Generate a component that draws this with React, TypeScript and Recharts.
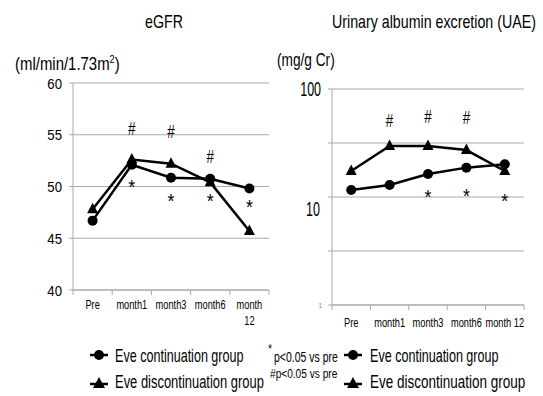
import React from 'react';
import { ComposedChart, Line, Scatter, XAxis, YAxis, CartesianGrid } from 'recharts';

const FONT = "'Liberation Sans',Arial,sans-serif";
const GRAY = '#a9a9a9';

// ---- data ----
const categories = ['Pre', 'month1', 'month3', 'month6', 'month 12'];
const leftCatLabels = [['Pre'], ['month1'], ['month3'], ['month6'], ['month', '12']];
const egfrContinuation = [46.7, 52.1, 50.85, 50.75, 49.8];
const egfrDiscontinuation = [47.8, 52.6, 52.2, 50.4, 45.7];
const uaeContinuation = [11.6, 12.9, 16.3, 18.7, 20.1];
const uaeDiscontinuation = [17.4, 29.7, 29.7, 27.2, 17.4];
const egfrTicks = [40, 45, 50, 55, 60];
const uaeGridTicks = [1, 3.162, 10, 31.62, 100];
const egfrHashIdx = [1, 2, 3];
const egfrHashY = [55.6, 55.3, 52.9];
const egfrStarIdx = [1, 2, 3, 4];
const egfrStarY = [50.3, 49.0, 49.0, 48.4];
const uaeHashIdx = [1, 2, 3];
const uaeHashY = [51.6, 56.2, 54.2];
const uaeStarIdx = [2, 3, 4];
const uaeStarY = [10.8, 11.2, 10.1];

const xTicks = [0, 0.5, 1, 1.5, 2, 2.5, 3, 3.5, 4, 4.5, 5];

const egfrData = categories.map((c, i) => ({ x: i + 0.5, cat: c, cont: egfrContinuation[i], disc: egfrDiscontinuation[i] }));
const uaeData = categories.map((c, i) => ({ x: i + 0.5, cat: c, cont: uaeContinuation[i], disc: uaeDiscontinuation[i] }));
const mkAnn = (idx: number[], ys: number[], t: string) => idx.map((i, k) => ({ x: i + 0.5, y: ys[k], t }));
const egfrAnn = [...mkAnn(egfrHashIdx, egfrHashY, '#'), ...mkAnn(egfrStarIdx, egfrStarY, '*')];
const uaeAnn = [...mkAnn(uaeHashIdx, uaeHashY, '#'), ...mkAnn(uaeStarIdx, uaeStarY, '*')];

// horizontally condensed text (emulates a narrow font)
const NText = ({ x, y, sx, size, anchor = 'start', fill = '#000', children }: any) => (
  <text
    transform={`translate(${x} ${y}) scale(${sx} 1)`}
    x={0}
    y={0}
    textAnchor={anchor}
    fontSize={size}
    fontFamily={FONT}
    fill={fill}
  >
    {children}
  </text>
);

const CircleDot = (p: any) => <circle key={'c' + p.index} cx={p.cx} cy={p.cy} r={5} fill="#000" />;
const TriDot = (p: any) => (
  <polygon key={'t' + p.index} points={`${p.cx},${p.cy - 6.5} ${p.cx - 5.5},${p.cy + 4} ${p.cx + 5.5},${p.cy + 4}`} fill="#000" />
);

const AnnShape = (p: any) => {
  const t = p.payload.t;
  return t === '*' ? (
    <NText x={p.cx} y={p.cy + 11} sx={0.85} size={21} anchor="middle">*</NText>
  ) : (
    <NText x={p.cx} y={p.cy + 6.5} sx={0.75} size={18} anchor="middle">#</NText>
  );
};

const makeXTick = (labels: string[][], fontSize: number, gap: number, lineGap: number) => (props: any) => {
  const { x, y, payload } = props;
  const v = payload.value;
  if (Number.isInteger(v)) {
    return <line x1={x} y1={y} x2={x} y2={y + 5} stroke={GRAY} strokeWidth={1} />;
  }
  const lab = labels[Math.floor(v)];
  return (
    <g>
      {lab.map((s, k) => (
        <NText key={k} x={x} y={y + gap + k * lineGap} sx={0.74} size={fontSize} anchor="middle">{s}</NText>
      ))}
    </g>
  );
};

const LeftYTick = (props: any) => {
  const { x, y, payload } = props;
  return <NText x={x} y={y + 5.5} sx={0.85} size={15.5} anchor="end">{String(payload.value)}</NText>;
};

const RightYTick = (props: any) => {
  const { x, y, payload } = props;
  const v = payload.value;
  const tick = <line x1={x - 4} x2={x} y1={y} y2={y} stroke={GRAY} />;
  if (v === 100) {
    return (
      <g>
        {tick}
        <NText x={x - 11} y={y + 7} sx={0.64} size={19.5} anchor="end">100</NText>
      </g>
    );
  }
  if (v === 10) {
    return (
      <g>
        {tick}
        <NText x={x - 12} y={y + 19} sx={0.64} size={19.5} anchor="end">10</NText>
      </g>
    );
  }
  if (v === 1) {
    return (
      <g>
        {tick}
        <NText x={x - 10} y={y + 3} sx={0.8} size={8} anchor="end" fill="#888">1</NText>
      </g>
    );
  }
  return <g>{tick}</g>;
};

const leftXTick = makeXTick(leftCatLabels, 12.5, 19, 16);
const rightXTick = makeXTick(categories.map((c) => [c]), 12.5, 22, 16);

const LegendMarker = ({ x, y, tri }: { x: number; y: number; tri?: boolean }) => (
  <g>
    <line x1={x - 9} x2={x + 9} y1={y} y2={y} stroke="#000" strokeWidth={2.5} />
    {tri ? (
      <polygon points={`${x},${y - 7} ${x - 6},${y + 4} ${x + 6},${y + 4}`} fill="#000" />
    ) : (
      <circle cx={x} cy={y} r={5} fill="#000" />
    )}
  </g>
);

export default function App() {
  return (
    <div style={{ position: 'absolute', left: 0, top: 0, width: 543, height: 396, background: '#fff', overflow: 'hidden' }}>
      <div style={{ position: 'absolute', left: 0, top: 0 }}>
        <ComposedChart width={290} height={340} data={egfrData} margin={{ top: 83, right: 21, bottom: 0, left: 0 }}>
          <CartesianGrid vertical={false} stroke={GRAY} />
          <XAxis
            dataKey="x"
            type="number"
            domain={[0, 5]}
            ticks={xTicks}
            interval={0}
            tickLine={false}
            tickSize={0}
            tickMargin={0}
            tick={leftXTick}
            axisLine={{ stroke: GRAY }}
            height={50}
            allowDataOverflow
          />
          <YAxis
            type="number"
            domain={[40, 60]}
            ticks={egfrTicks}
            interval={0}
            width={73}
            tickSize={4}
            tickMargin={7}
            tickLine={{ stroke: GRAY }}
            axisLine={{ stroke: GRAY }}
            tick={LeftYTick}
            allowDataOverflow
          />
          <Line dataKey="disc" stroke="#000" strokeWidth={2.5} dot={TriDot} isAnimationActive={false} />
          <Line dataKey="cont" stroke="#000" strokeWidth={2.5} dot={CircleDot} isAnimationActive={false} />
          <Scatter data={egfrAnn} dataKey="y" shape={AnnShape} isAnimationActive={false} />
        </ComposedChart>
      </div>
      <div style={{ position: 'absolute', left: 258, top: 0 }}>
        <ComposedChart width={285} height={340} data={uaeData} margin={{ top: 89, right: 19, bottom: 0, left: 0 }}>
          <CartesianGrid vertical={false} stroke={GRAY} />
          <XAxis
            dataKey="x"
            type="number"
            domain={[0, 5]}
            ticks={xTicks}
            interval={0}
            tickLine={false}
            tickSize={0}
            tickMargin={0}
            tick={rightXTick}
            axisLine={{ stroke: GRAY }}
            height={35}
            allowDataOverflow
          />
          <YAxis
            type="number"
            scale="log"
            domain={[1, 100]}
            ticks={uaeGridTicks}
            interval={0}
            width={74}
            tickSize={0}
            tickMargin={0}
            tickLine={false}
            axisLine={{ stroke: GRAY }}
            tick={RightYTick}
            allowDataOverflow
          />
          <Line dataKey="disc" stroke="#000" strokeWidth={2.5} dot={TriDot} isAnimationActive={false} />
          <Line dataKey="cont" stroke="#000" strokeWidth={2.5} dot={CircleDot} isAnimationActive={false} />
          <Scatter data={uaeAnn} dataKey="y" shape={AnnShape} isAnimationActive={false} />
        </ComposedChart>
      </div>
      <svg width={543} height={396} style={{ position: 'absolute', left: 0, top: 0, pointerEvents: 'none' }}>
        <NText x={145} y={28} sx={0.79} size={18}>eGFR</NText>
        <NText x={332} y={28} sx={0.79} size={18}>Urinary albumin excretion (UAE)</NText>
        <NText x={15} y={70} sx={0.83} size={18}>
          (ml/min/1.73m<tspan fontSize={11} dy={-7}>2</tspan><tspan dy={7}>)</tspan>
        </NText>
        <NText x={277} y={66} sx={0.76} size={18}>(mg/g Cr)</NText>

        <LegendMarker x={99} y={355} />
        <NText x={115} y={362} sx={0.68} size={18.5}>Eve continuation group</NText>
        <LegendMarker x={99} y={384} tri />
        <NText x={115} y={388} sx={0.7} size={18.5}>Eve discontinuation group</NText>

        <NText x={268} y={353} sx={0.8} size={13}>*</NText>
        <NText x={274} y={362} sx={0.75} size={14}>p&lt;0.05 vs pre</NText>
        <NText x={270} y={378} sx={0.78} size={13}>#p&lt;0.05 vs pre</NText>

        <LegendMarker x={353} y={355} />
        <NText x={370} y={362} sx={0.68} size={18.5}>Eve continuation group</NText>
        <LegendMarker x={353} y={384} tri />
        <NText x={370} y={388} sx={0.73} size={18.5}>Eve discontinuation group</NText>
      </svg>
    </div>
  );
}
